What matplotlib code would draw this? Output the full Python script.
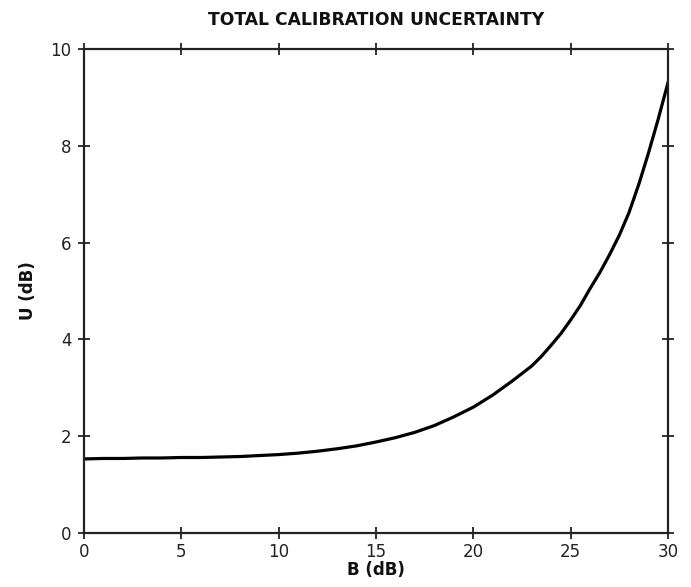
import matplotlib.pyplot as plt

# Total calibration uncertainty vs. B
b_db = [0, 1, 2, 3, 4, 5, 6, 7, 8, 9, 10, 11, 12, 13, 14, 15,
        16, 17, 18, 19, 20, 21, 22, 23, 23.5, 24, 24.5, 25, 25.5, 26, 26.5,
        27, 27.5, 28, 28.5, 29, 29.5, 30]
u_db = [1.53, 1.54, 1.54, 1.55, 1.55, 1.56, 1.56, 1.57, 1.58, 1.60, 1.62,
        1.65, 1.69, 1.74, 1.80, 1.88, 1.97, 2.08, 2.22, 2.40, 2.60,
        2.85, 3.14, 3.45, 3.65, 3.88, 4.12, 4.40, 4.70, 5.05, 5.38,
        5.75, 6.15, 6.62, 7.20, 7.85, 8.55, 9.30]

x_ticks = [0, 5, 10, 15, 20, 25, 30]
y_ticks = [0, 2, 4, 6, 8, 10]

plt.rcParams['font.family'] = ['DejaVu Sans']

fig = plt.figure(figsize=(6.91, 5.87), dpi=100)
ax = fig.add_axes([0.1216, 0.092, 0.845, 0.8245])

ax.plot(b_db, u_db, color="black", linewidth=2.3, solid_joinstyle='round')

ax.set_xlim(0, 30)
ax.set_ylim(0, 10)
ax.set_xticks(x_ticks)
ax.set_yticks(y_ticks)

for s in ax.spines.values():
    s.set_linewidth(1.6)
    s.set_color("#222222")

ax.tick_params(direction='inout', length=8, width=1.3, color="#222222",
               labelcolor="#222222", top=True, right=True, labelsize=12)
ax.tick_params(axis='y', pad=5)
ax.tick_params(axis='x', pad=3)

ax.set_title('TOTAL CALIBRATION UNCERTAINTY', fontsize=12.3, fontweight='bold',
             color="#111111", pad=17)
ax.set_xlabel('B (dB)', fontsize=12, fontweight='bold', labelpad=0, color="#111111")
ax.set_ylabel('U (dB)', fontsize=12, fontweight='bold', labelpad=10, color="#111111")

plt.savefig('out.png', dpi=100)
